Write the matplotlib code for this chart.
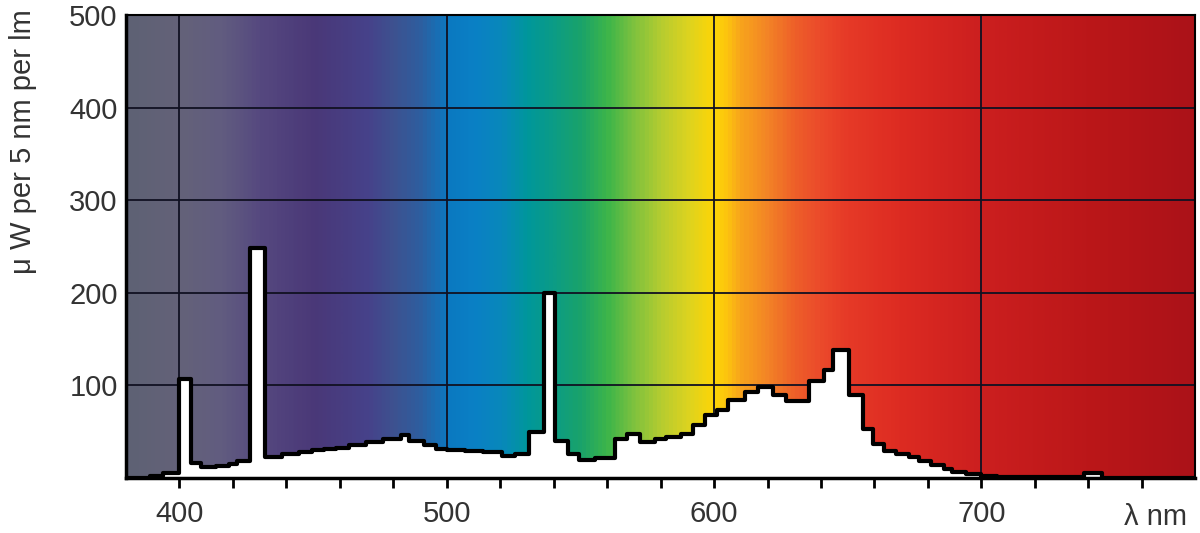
import numpy as np
import matplotlib
matplotlib.use('Agg')
import matplotlib.pyplot as plt
from matplotlib.colors import LinearSegmentedColormap

plt.rcParams['font.family'] = ['Liberation Sans', 'DejaVu Sans']

# step edges (nm) and spectral power per bin
edges = [380, 389, 394, 400, 404.5, 408, 413.5, 418.5, 421.5, 426.5,
         432, 438.5, 444.8, 449.7, 454, 458.5, 463.4, 469.7, 476, 482.7,
         485.8, 491.4, 495.8, 500, 507, 513.5, 520.5, 525.6, 530.6, 536.2,
         540.6, 545.5, 549.3, 555.5, 563, 567.3, 572.3, 577.9, 582, 587.7,
         592.2, 596.5, 601, 605.2, 611.4, 616.4, 622, 627, 635.7, 641.3,
         644.4, 650.6, 655.6, 659.3, 663.7, 668, 673, 676.7, 681, 686,
         689.1, 694.1, 699.7, 706, 711, 738.3, 745.1]
power = [0, 2, 5, 107, 16, 11.5, 13, 15.5, 18.5, 248,
         23, 26, 28, 30, 31.5, 33, 36, 39, 42.5, 46,
         40, 36, 31.5, 30, 29, 28, 24, 26, 50, 200,
         40.5, 26, 19.5, 21.5, 42, 48, 39.5, 42, 44, 48,
         57, 68, 74, 84, 93, 98.5, 89.5, 83, 105, 116.6,
         138, 89.5, 53, 37, 29.7, 26, 22.4, 18, 14.5, 9.8,
         6.8, 4.3, 2.5, 1.5, 0.8, 5, 0.3]

# background spectrum colours
spec_nm = [380, 400, 415, 430, 450, 470, 480, 490, 500, 510, 520, 530, 540,
           550, 560, 570, 580, 590, 600, 605, 610, 620, 630, 640, 650, 670,
           700, 740, 780]
spec_col = ['#5e6174', '#646279', '#615c80', '#55487f', '#4a3878', '#46428a',
            '#3d5290', '#2d5fa0', '#0b79c1', '#0a80c5', '#0888bb', '#00979b',
            '#0c9c85', '#1aa36a', '#3db54a', '#7fc23e', '#b5cc30', '#dcd320',
            '#fdd507', '#fcc30f', '#f8a41c', '#f38426', '#ee6029', '#eb4a2b',
            '#e63a27', '#dd2b22', '#cc1f1f', '#bb1719', '#ab1218']

xmin, xmax, ymax = 380, 780, 500

fig = plt.figure(figsize=(12, 5.33), dpi=100)
ax = fig.add_axes([0.105, 0.103, 0.891, 0.869])

stops = [((n - xmin) / (xmax - xmin), c) for n, c in zip(spec_nm, spec_col)]
cmap = LinearSegmentedColormap.from_list('spec', stops)
grad = np.linspace(0, 1, 800).reshape(1, -1)
ax.imshow(grad, cmap=cmap, extent=[xmin, xmax, 0, ymax], aspect='auto', zorder=0)

x = edges + [xmax]
y = power + [power[-1]]
ax.fill_between(x, y, step='post', color='white', lw=0, zorder=2)
ax.step(x, y, where='post', color='black', lw=3, zorder=3)

ax.set_xlim(xmin, xmax)
ax.set_ylim(0, ymax)
ax.set_axisbelow(True)
ax.grid(True, color='#111122', lw=1.3)
ax.set_xticks([400, 500, 600, 700])
ax.set_xticks(np.arange(400, 780, 20), minor=True)
ax.set_yticks([100, 200, 300, 400, 500])
ax.tick_params(axis='x', which='both', direction='out', length=7, width=2,
               labelsize=21, labelcolor='#333333', pad=9)
ax.tick_params(axis='y', length=0, labelsize=21, labelcolor='#333333', pad=6)
ax.grid(False, which='minor')
for s in ax.spines.values():
    s.set_linewidth(1.5)
ax.spines['bottom'].set_linewidth(2.5)
ax.spines['left'].set_linewidth(2.5)

ax.text(765, -0.085, 'λ nm', transform=ax.get_xaxis_transform(), ha='center',
        va='center', fontsize=21, color='#333333')
fig.text(0.019, 0.485, 'μ W per 5 nm per lm', rotation=90, ha='center',
         va='bottom', fontsize=21, color='#333333')

fig.savefig('out.png', dpi=100)
